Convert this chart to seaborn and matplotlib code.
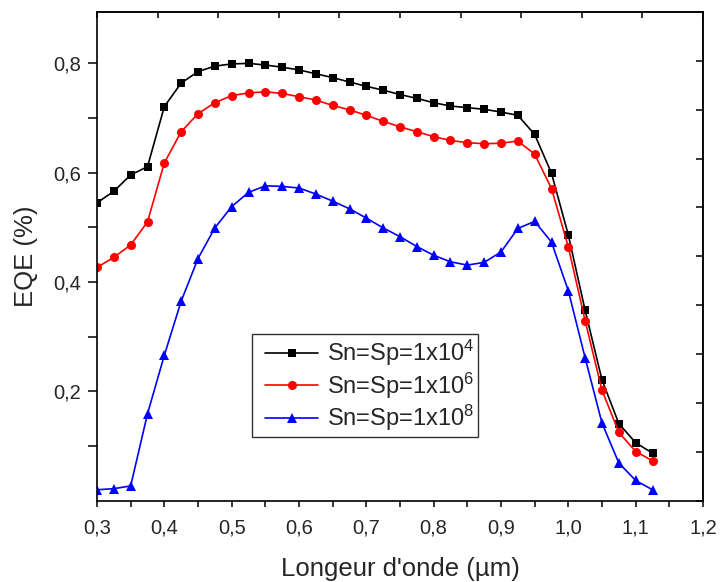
import numpy as np
import pandas as pd
import matplotlib
matplotlib.use("Agg")
import matplotlib.pyplot as plt
import seaborn as sns
from matplotlib.ticker import FixedLocator, FixedFormatter
from matplotlib.lines import Line2D
from matplotlib.legend_handler import HandlerLine2D

wavelength = [0.300, 0.325, 0.350, 0.375, 0.400, 0.425, 0.450, 0.475, 0.500, 0.525,
              0.550, 0.575, 0.600, 0.625, 0.650, 0.675, 0.700, 0.725, 0.750, 0.775,
              0.800, 0.825, 0.850, 0.875, 0.900, 0.925, 0.950, 0.975, 1.000, 1.025,
              1.050, 1.075, 1.100, 1.125]

eqe_1e4 = [0.545, 0.566, 0.596, 0.611, 0.721, 0.764, 0.785, 0.795, 0.799, 0.800,
           0.797, 0.793, 0.788, 0.781, 0.774, 0.766, 0.758, 0.751, 0.743, 0.736,
           0.728, 0.722, 0.719, 0.716, 0.711, 0.705, 0.670, 0.599, 0.486, 0.348,
           0.221, 0.141, 0.106, 0.087]

eqe_1e6 = [0.427, 0.445, 0.468, 0.510, 0.618, 0.675, 0.708, 0.728, 0.741, 0.746,
           0.748, 0.745, 0.739, 0.733, 0.723, 0.715, 0.705, 0.694, 0.684, 0.675,
           0.666, 0.659, 0.655, 0.653, 0.654, 0.658, 0.634, 0.571, 0.464, 0.329,
           0.202, 0.125, 0.090, 0.073]

eqe_1e8 = [0.020, 0.022, 0.027, 0.159, 0.266, 0.365, 0.443, 0.499, 0.538, 0.564,
           0.576, 0.575, 0.572, 0.561, 0.548, 0.534, 0.517, 0.499, 0.483, 0.465,
           0.449, 0.437, 0.431, 0.436, 0.455, 0.498, 0.511, 0.473, 0.384, 0.261,
           0.142, 0.069, 0.037, 0.020]

series_labels = ['Sn=Sp=1x10$^{4}$', 'Sn=Sp=1x10$^{6}$', 'Sn=Sp=1x10$^{8}$']
series_colors = ['#000000', '#ff0000', '#0000ff']
series_markers = ['s', 'o', '^']
series_msize = [6, 6.5, 7]

x_ticks = [0.3, 0.4, 0.5, 0.6, 0.7, 0.8, 0.9, 1.0, 1.1, 1.2]
x_ticklabels = ['0,3', '0,4', '0,5', '0,6', '0,7', '0,8', '0,9', '1,0', '1,1', '1,2']
y_ticks = [0.2, 0.4, 0.6, 0.8]
y_ticklabels = ['0,2', '0,4', '0,6', '0,8']

sns.set_theme(style="white")
plt.rcParams['font.family'] = ['Liberation Sans', 'DejaVu Sans']
plt.rcParams['mathtext.fontset'] = 'custom'
plt.rcParams['mathtext.rm'] = 'Liberation Sans'
plt.rcParams['mathtext.it'] = 'Liberation Sans'
plt.rcParams['mathtext.bf'] = 'Liberation Sans'

fig = plt.figure(figsize=(7.22, 5.82), dpi=100)
ax = fig.add_axes([97/722, 1 - 500.7/582, (703 - 97)/722, (500.7 - 12)/582])

df = pd.DataFrame({'wl': wavelength, 's4': eqe_1e4, 's6': eqe_1e6, 's8': eqe_1e8})
for col, lab, c, m, ms in zip(['s4', 's6', 's8'], series_labels, series_colors,
                              series_markers, series_msize):
    sns.lineplot(data=df, x='wl', y=col, ax=ax, color=c, marker=m, markersize=ms,
                 markeredgewidth=0, linewidth=1.2, label=lab)

xlim = (0.3, 1.2)
ylim = (0.0, 0.894)
ax.set_xlim(*xlim)
ax.set_ylim(*ylim)

ax.xaxis.set_major_locator(FixedLocator(x_ticks))
ax.xaxis.set_major_formatter(FixedFormatter(x_ticklabels))
ax.xaxis.set_minor_locator(FixedLocator([t + 0.05 for t in x_ticks[:-1]]))
ax.yaxis.set_major_locator(FixedLocator(y_ticks))
ax.yaxis.set_major_formatter(FixedFormatter(y_ticklabels))
ax.yaxis.set_minor_locator(FixedLocator([0.1, 0.3, 0.5, 0.7]))

ax.tick_params(axis='x', which='both', direction='out', length=4.5, width=1.1,
               color='black', labelsize=14.5, pad=8, bottom=True, top=False)
ax.tick_params(axis='y', which='both', direction='out', length=6.5, width=1.1,
               color='black', labelsize=14.5, pad=5, left=True, right=False)

for s in ax.spines.values():
    s.set_visible(True)
    s.set_color('black')
    s.set_linewidth(1.2)

secx = ax.secondary_xaxis('top')
secx.set_xticks(list(np.linspace(xlim[0], xlim[1], 11)))
secx.tick_params(direction='in', length=4, width=1.1, labeltop=False, color='black')
secx.spines['top'].set_linewidth(1.2)
secy = ax.secondary_yaxis('right')
secy.set_yticks(list(np.linspace(ylim[0], ylim[1], 11)))
secy.tick_params(direction='in', length=5, width=1.1, labelright=False, color='black')
secy.spines['right'].set_linewidth(1.2)

ax.set_xlabel("Longeur d'onde (µm)", fontsize=18.5, labelpad=14)
ax.set_ylabel("EQE (%)", fontsize=18.5, labelpad=11)

leg = ax.legend(loc='upper left', bbox_to_anchor=((251.7 - 97)/606, (500.7 - 334.3)/488.7),
                fontsize=17, frameon=True, fancybox=False, handlelength=2.67,
                labelspacing=0.1, borderpad=0.15, handletextpad=0.35, borderaxespad=0,
                handler_map={Line2D: HandlerLine2D(xpad=0.42)})
leg.get_frame().set_edgecolor('black')
leg.get_frame().set_linewidth(1.0)

fig.savefig('out.png', dpi=100)
